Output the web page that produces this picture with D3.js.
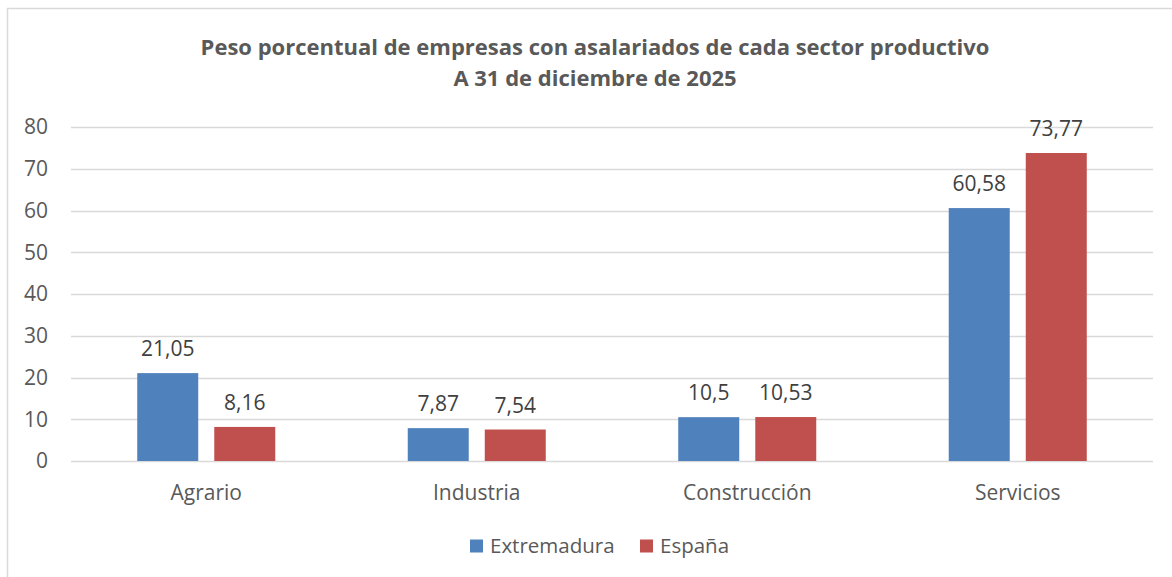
<!DOCTYPE html>
<html><head><meta charset="utf-8">
<script src="https://cdn.jsdelivr.net/npm/d3@7"></script>
<style>body{margin:0;background:#fff}svg{display:block}text{font-family:"Open Sans",sans-serif}</style>
</head><body>
<svg id="c" width="1172" height="577"></svg>
<script>
const categories = ["Agrario","Industria","Construcción","Servicios"];
const seriesNames = ["Extremadura","España"];
const extremadura = [21.05,7.87,10.5,60.58];
const espana = [8.16,7.54,10.53,73.77];
const yTicks = [0,10,20,30,40,50,60,70,80];
const titleLines = ["Peso porcentual de empresas con asalariados de cada sector productivo","A 31 de diciembre de 2025"];
const colors = ["#4F81BD","#C0504D"];

const svg = d3.select("#c");
svg.append("rect").attr("x",7.5).attr("y",8.5).attr("width",1200).attr("height",600)
  .attr("fill","#fff").attr("stroke","#d9d9d9").attr("stroke-width",1.5);

const L=71,R=1153,T=127,B=461;
const x = d3.scaleBand().domain(categories).range([L,R]);
const x1 = d3.scaleBand().domain(seriesNames).range([0,x.bandwidth()]).paddingInner(0.208).paddingOuter(0.86);
const y = d3.scaleLinear().domain([0,80]).range([B,T]);

svg.append("g").selectAll("line").data(yTicks).join("line")
  .attr("x1",L).attr("x2",R).attr("y1",d=>Math.round(y(d))+0.5).attr("y2",d=>Math.round(y(d))+0.5)
  .attr("stroke","#d9d9d9").attr("stroke-width",1.5);

svg.append("g").selectAll("text").data(yTicks).join("text")
  .attr("x",48).attr("y",d=>y(d)).attr("dy","0.35em").attr("text-anchor","end")
  .attr("font-size",21).attr("fill","#595959").text(d=>d);

const data = categories.map((c,i)=>({c,vals:[{s:seriesNames[0],v:extremadura[i]},{s:seriesNames[1],v:espana[i]}]}));
const g = svg.append("g").selectAll("g").data(data).join("g").attr("transform",d=>`translate(${x(d.c)},0)`);
g.selectAll("rect").data(d=>d.vals).join("rect")
  .attr("x",d=>x1(d.s)).attr("width",x1.bandwidth())
  .attr("y",d=>y(d.v)).attr("height",d=>y(0)-y(d.v))
  .attr("fill",(d,i)=>colors[i]);
g.selectAll("text").data(d=>d.vals).join("text")
  .attr("x",d=>x1(d.s)+x1.bandwidth()/2).attr("y",d=>y(d.v)-17)
  .attr("text-anchor","middle").attr("font-size",21).attr("fill","#404040")
  .text(d=>String(d.v).replace(".",","));

svg.append("g").selectAll("text").data(categories).join("text")
  .attr("x",d=>x(d)+x.bandwidth()/2).attr("y",493).attr("dy","0.35em")
  .attr("text-anchor","middle").attr("font-size",21).attr("fill","#595959").text(d=>d);

svg.append("g").selectAll("text").data(titleLines).join("text")
  .attr("x",595).attr("y",(d,i)=>47+i*31).attr("dy","0.35em").attr("text-anchor","middle")
  .attr("font-size",22).attr("font-weight","bold").attr("fill","#595959").text(d=>d);

const legX=[470,640];
const lg = svg.append("g").selectAll("g").data(seriesNames).join("g").attr("transform",(d,i)=>`translate(${legX[i]},546)`);
lg.append("rect").attr("x",0).attr("y",-6.5).attr("width",13).attr("height",13).attr("fill",(d,i)=>colors[i]);
lg.append("text").attr("x",20).attr("y",0).attr("dy","0.35em").attr("font-size",20.5).attr("fill","#595959").text(d=>d);
</script>
</body></html>
